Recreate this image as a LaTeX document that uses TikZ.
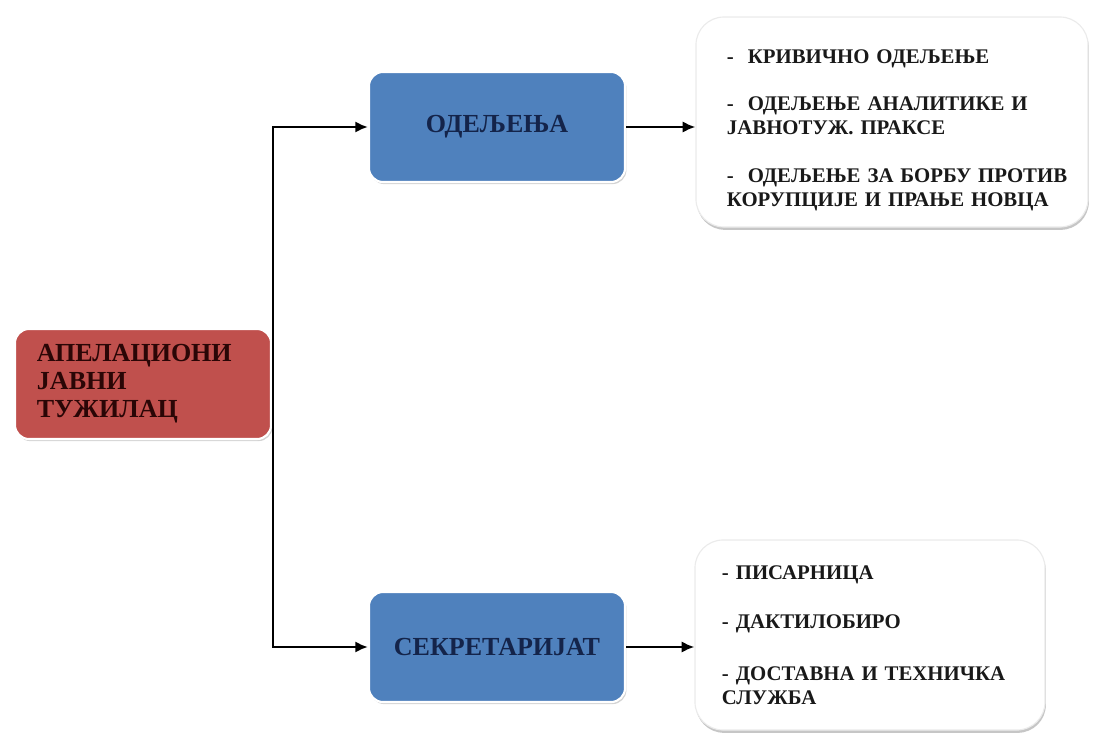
\documentclass[tikz,border=0pt]{standalone}
\usepackage{fontspec}
\setmainfont{Liberation Serif}
\usepackage{tikz}
\usetikzlibrary{arrows.meta,shadows}

\definecolor{crvena}{HTML}{C0504D}
\definecolor{plava}{HTML}{4F81BD}
\definecolor{tamnoplava}{HTML}{14244A}
\definecolor{tamnocrvena}{HTML}{2A0606}

\tikzset{
	kutija/.style={rounded corners=10pt, draw=white, line width=1.5pt, drop shadow={opacity=0.35, shadow xshift=1pt, shadow yshift=-1.5pt}},
	glavna/.style={kutija, fill=crvena, minimum width=6.4cm, minimum height=2.75cm, text width=5.3cm, align=left, font=\fontsize{18.5}{20}\selectfont\bfseries, text=tamnocrvena},
	odsek/.style={kutija, fill=plava, minimum width=6.4cm, minimum height=2.75cm, align=center, font=\fontsize{18.5}{20}\selectfont\bfseries, text=tamnoplava},
	spisak/.style={rounded corners=20pt, fill=white, draw=black!8, line width=0.8pt, drop shadow={opacity=0.45, shadow xshift=0.6pt, shadow yshift=-2pt}, align=left, font=\fontsize{14.8}{17}\selectfont\bfseries, text=black!90},
	veza/.style={line width=1.6pt, -{Latex[length=9pt,width=8pt]}}
}

\begin{document}
\begin{tikzpicture}[x=0.025cm, y=-0.025cm]
	\useasboundingbox (0,0) rectangle (1094,736);
	% glavni cvor
	\node[glavna] (tuzilac) at (143,384) {АПЕЛАЦИОНИ\\ЈАВНИ\\ТУЖИЛАЦ};
	% odseci
	\node[odsek] (odeljenja) at (497,127) {ОДЕЉЕЊА};
	\node[odsek] (sekretarijat) at (497,647) {СЕКРЕТАРИЈАТ};
	% spiskovi
	\node[spisak, minimum width=9.8cm, minimum height=5.25cm, text width=8.25cm] (spisak1) at (892,122) {\mbox{}\\[4.4pt]-\ \ КРИВИЧНО ОДЕЉЕЊЕ\\[17pt]-\ \ ОДЕЉЕЊЕ АНАЛИТИКЕ И\\ЈАВНОТУЖ. ПРАКСЕ\\[17pt]\mbox{-\ \ ОДЕЉЕЊЕ ЗА БОРБУ ПРОТИВ}\\КОРУПЦИЈЕ И ПРАЊЕ НОВЦА};
	\node[spisak, minimum width=8.75cm, minimum height=4.75cm, text width=7.4cm] (spisak2) at (870,635) {- ПИСАРНИЦА\\[18pt]- ДАКТИЛОБИРО\\[20pt]- ДОСТАВНА И ТЕХНИЧКА\\СЛУЖБА};
	% veze
	\coordinate (grana) at (273,384);
	\draw[line width=1.6pt] (tuzilac.east) -- (grana);
	\draw[veza] (grana) |- (odeljenja.west);
	\draw[veza] (grana) |- (sekretarijat.west);
	\draw[veza] (odeljenja.east) -- (spisak1.west |- odeljenja.east);
	\draw[veza] (sekretarijat.east) -- (spisak2.west |- sekretarijat.east);
\end{tikzpicture}
\end{document}
